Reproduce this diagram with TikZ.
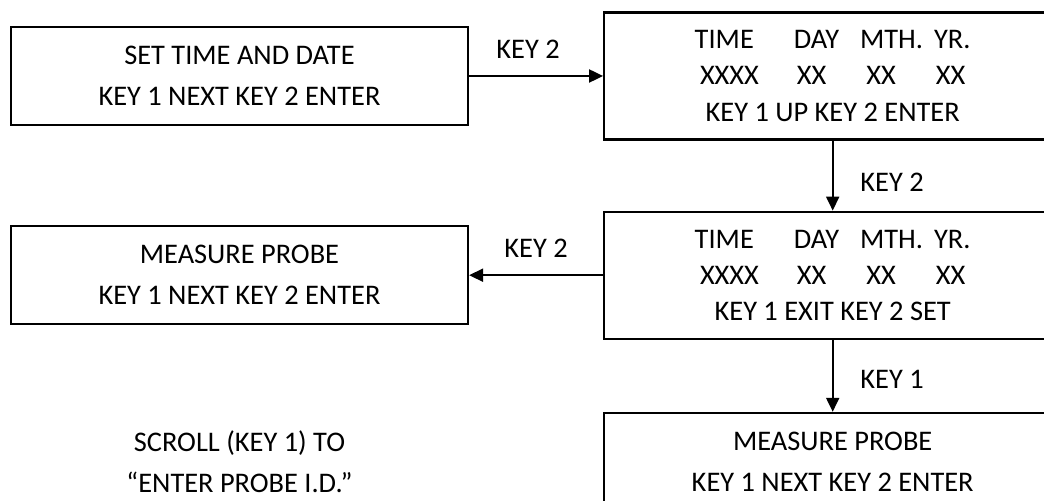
\documentclass[tikz,border=0pt]{standalone}
\usepackage{fontspec}
\setmainfont{Carlito}
\usetikzlibrary{positioning,arrows.meta}

\begin{document}
\begin{tikzpicture}[x=0.5pt,y=-0.5pt,screen/.style={draw, rectangle, line width=1.1pt, minimum width=228.5pt, minimum height=49pt, align=center, font=\fontsize{14.2pt}{20.5pt}\selectfont},dscreen/.style={screen, minimum height=63.5pt, font=\fontsize{14.2pt}{18pt}\selectfont},note/.style={align=center, font=\fontsize{14.2pt}{20.5pt}\selectfont},keylbl/.style={font=\fontsize{14.2pt}{17pt}\selectfont},flow/.style={line width=1pt, -{Triangle[length=7pt,width=6.5pt]}}]
  \useasboundingbox (0,0) rectangle (1044,501);
  \clip (0,0) rectangle (1044,501);
  \node[screen] (setdate) at (239.5,76) {SET TIME AND DATE\\KEY 1 NEXT KEY 2 ENTER};
  \node[dscreen, right=67pt of setdate] (dateup) {TIME\hspace{20pt}DAY\hspace{10.5pt}MTH.\hspace{5.5pt}YR.\\XXXX\hspace{19pt}XX\hspace{20pt}XX\hspace{20pt}XX\\KEY 1 UP KEY 2 ENTER};
  \node[dscreen, below=35pt of dateup] (dateset) {TIME\hspace{20pt}DAY\hspace{10.5pt}MTH.\hspace{5.5pt}YR.\\XXXX\hspace{19pt}XX\hspace{20pt}XX\hspace{20pt}XX\\KEY 1 EXIT KEY 2 SET};
  \node[screen, left=67pt of dateset] (probel) {MEASURE PROBE\\KEY 1 NEXT KEY 2 ENTER};
  \node[screen, below=36pt of dateset] (prober) {MEASURE PROBE\\KEY 1 NEXT KEY 2 ENTER};
  \node[note] (scroll) at (probel |- prober) {SCROLL (KEY 1) TO\\“ENTER PROBE I.D.”};
  \draw[flow] (setdate) -- node[keylbl, above=5pt, pos=0.44] (keya) {KEY 2} (dateup);
  \draw[flow] (dateup) -- node[keylbl, right=10pt, pos=0.6] (keyb) {KEY 2} (dateset);
  \draw[flow] (dateset) -- node[keylbl, above=5pt] (keyc) {KEY 2} (probel);
  \draw[flow] (dateset) -- node[keylbl, right=10pt, pos=0.55] (keyd) {KEY 1} (prober);
\end{tikzpicture}
\end{document}
